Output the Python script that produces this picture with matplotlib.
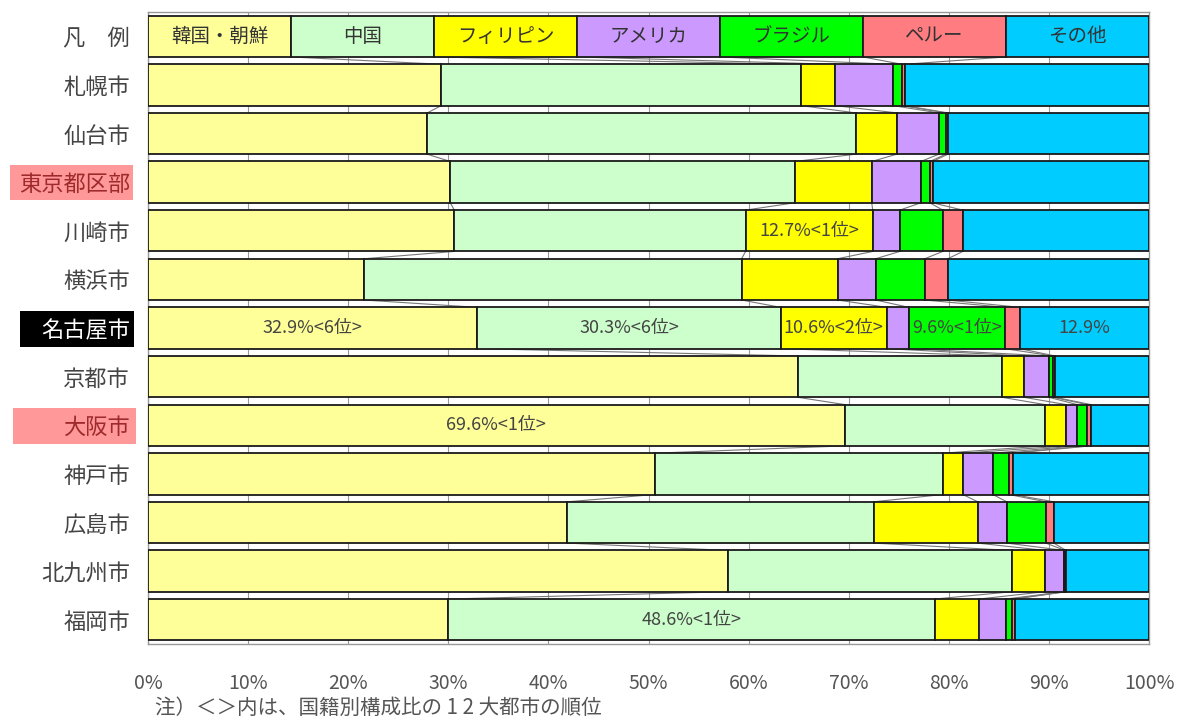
import matplotlib
matplotlib.use("Agg")
import matplotlib.pyplot as plt
from matplotlib.patches import Rectangle
import numpy as np

plt.rcParams['font.family'] = ['Noto Sans CJK JP', 'DejaVu Sans']

# ---- data ----
cities = ["札幌市", "仙台市", "東京都区部", "川崎市", "横浜市", "名古屋市", "京都市",
          "大阪市", "神戸市", "広島市", "北九州市", "福岡市"]
nationalities = ["韓国・朝鮮", "中国", "フィリピン", "アメリカ", "ブラジル", "ペルー", "その他"]

korea       = [29.3, 27.9, 30.2, 30.6, 21.6, 32.9, 64.9, 69.6, 50.6, 41.9, 57.9, 30.0]
china       = [35.9, 42.8, 34.4, 29.1, 37.7, 30.3, 20.4, 20.0, 28.8, 30.6, 28.4, 48.6]
philippines = [3.4, 4.1, 7.7, 12.7, 9.6, 10.6, 2.2, 2.1, 2.0, 10.4, 3.3, 4.4]
america     = [5.8, 4.2, 4.9, 2.7, 3.8, 2.2, 2.5, 1.1, 3.0, 2.9, 1.9, 2.7]
brazil      = [0.9, 0.7, 0.9, 4.3, 4.9, 9.6, 0.4, 1.0, 1.6, 3.9, 0.1, 0.6]
peru        = [0.3, 0.2, 0.3, 2.0, 2.3, 1.5, 0.2, 0.4, 0.4, 0.8, 0.1, 0.3]
others      = [24.4, 20.1, 21.6, 18.6, 20.1, 12.9, 9.4, 5.8, 13.6, 9.5, 8.3, 13.4]

annotations = [
    ("川崎市", 2, "12.7%<1位>"),
    ("名古屋市", 0, "32.9%<6位>"),
    ("名古屋市", 1, "30.3%<6位>"),
    ("名古屋市", 2, "10.6%<2位>"),
    ("名古屋市", 4, "9.6%<1位>"),
    ("名古屋市", 6, "12.9%"),
    ("大阪市", 0, "69.6%<1位>"),
    ("福岡市", 1, "48.6%<1位>"),
]
xticks = [0, 10, 20, 30, 40, 50, 60, 70, 80, 90, 100]
xtick_labels = [f"{v}%" for v in xticks]
note = "注）＜＞内は、国籍別構成比の 1 2 大都市の順位"
legend_row_label = "凡　例"

colors = ["#FFFF99", "#CCFFCC", "#FFFF00", "#CC99FF", "#00FF00", "#FF7C80", "#00CCFF"]

W, H = 1178, 717
fig = plt.figure(figsize=(W/100, H/100), dpi=100)

def fig_box(x0, y0, x1, y1, color):
    fig.add_artist(Rectangle((x0/W, 1 - y1/H), (x1 - x0)/W, (y1 - y0)/H,
                             transform=fig.transFigure, facecolor=color,
                             edgecolor="none", zorder=0))

fig_box(10, 165, 133, 200, "#FF9999")   # 東京都区部
fig_box(20, 311, 134, 347, "#000000")   # 名古屋市
fig_box(13, 408, 136, 444, "#FF9999")   # 大阪市

ax = fig.add_axes([148/W, 1-644/H, (1149-148)/W, (644-12)/H])

series = [korea, china, philippines, america, brazil, peru, others]
data = np.array(series).T
legend_vals = np.full(len(nationalities), 100.0/len(nationalities))
rows = np.vstack([legend_vals, data])
n = rows.shape[0]
h = 0.85
cum = np.hstack([np.zeros((n, 1)), np.cumsum(rows, axis=1)])

for k in range(len(nationalities)):
    ax.barh(np.arange(n), rows[:, k], left=cum[:, k], height=h, color=colors[k],
            edgecolor="#1a1a1a", linewidth=1.3, zorder=3)

for r in range(n - 1):
    for k in range(1, len(nationalities)):
        ax.plot([cum[r, k], cum[r + 1, k]], [r + h/2, r + 1 - h/2],
                color="#777777", lw=0.8, zorder=2)

for k, name in enumerate(nationalities):
    ax.text((cum[0, k] + cum[0, k+1]) / 2, 0, name, ha="center", va="center",
            fontsize=14, color="#333333", zorder=5)

for city, k, txt in annotations:
    r = cities.index(city) + 1
    ax.text((cum[r, k] + cum[r, k+1]) / 2, r, txt, ha="center", va="center",
            fontsize=13, color="#444444", zorder=5)

ax.set_xlim(0, 100)
ax.set_ylim(n - 0.5, -0.5)
ax.set_xticks(xticks)
ax.set_xticklabels(xtick_labels, fontsize=14, color="#555555")
ax.tick_params(axis="x", length=0, pad=21)
ax.set_yticks(np.arange(n))
ylabels = ax.set_yticklabels([legend_row_label] + cities, fontsize=16, color="#444444")
ax.tick_params(axis="y", length=0, pad=13)
ax.xaxis.grid(True, color="#999999", lw=0.8)
ax.set_axisbelow(True)
for s in ax.spines.values():
    s.set_color("#999999")
    s.set_linewidth(1.0)

for lab in ylabels:
    t = lab.get_text()
    if t in ("東京都区部", "大阪市"):
        lab.set_color("#9E2A2B")
    elif t == "名古屋市":
        lab.set_color("white")

fig.text(155/W, 1 - 708/H, note, ha="left", va="center", fontsize=14.8, color="#555555")

fig.savefig("out.png", dpi=100)
